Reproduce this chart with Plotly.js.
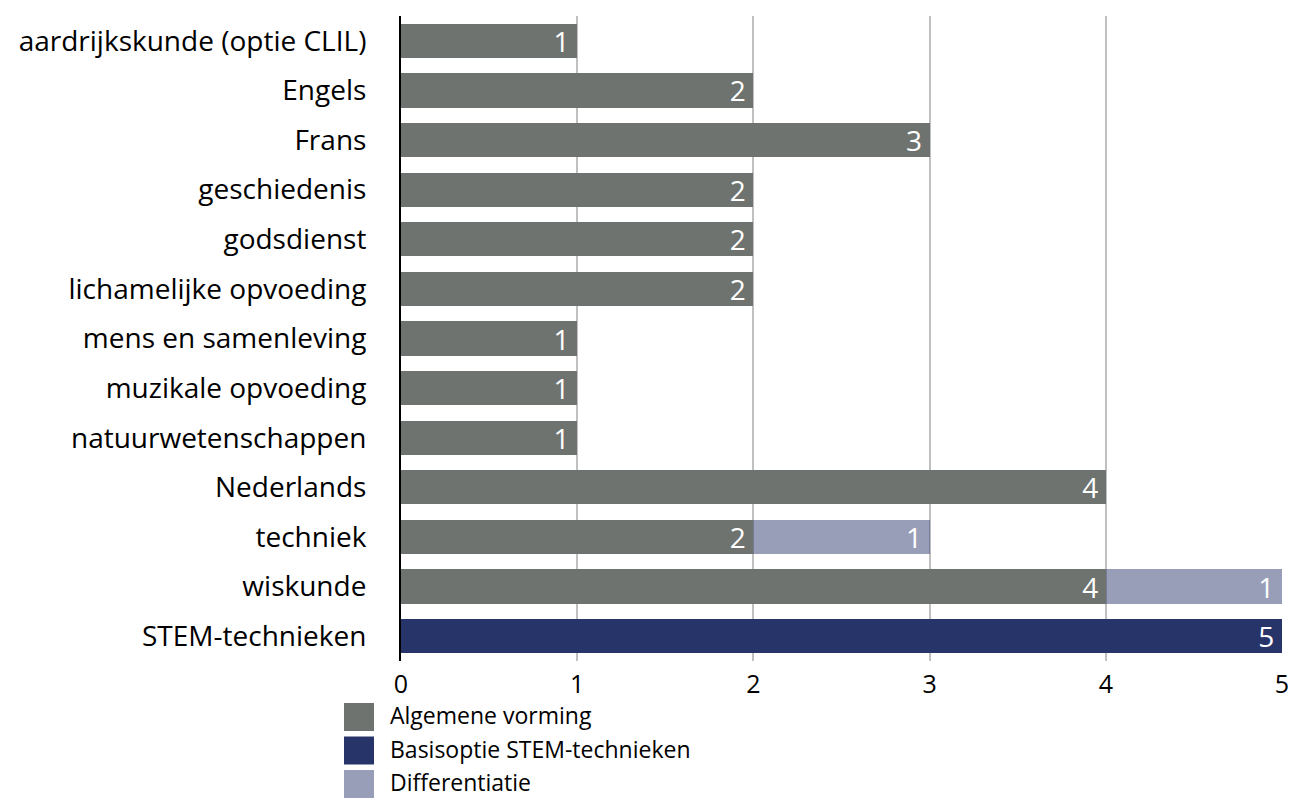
<!DOCTYPE html>
<html>
<head>
<meta charset="utf-8">
<script src="https://cdn.plot.ly/plotly-3.0.1.min.js"></script>
<style>html,body{margin:0;padding:0;background:#fff;}#chart{width:1292px;height:798px;}</style>
</head>
<body>
<div id="chart"></div>
<script>
const categories = ["aardrijkskunde (optie CLIL)","Engels","Frans","geschiedenis","godsdienst","lichamelijke opvoeding","mens en samenleving","muzikale opvoeding","natuurwetenschappen","Nederlands","techniek","wiskunde","STEM-technieken"];
const seriesNames = ["Algemene vorming","Basisoptie STEM-technieken","Differentiatie"];
const algemeneVorming = [1,2,3,2,2,2,1,1,1,4,2,4,null];
const basisoptieSTEM = [null,null,null,null,null,null,null,null,null,null,null,null,5];
const differentiatie = [null,null,null,null,null,null,null,null,null,null,1,1,null];
const xTicks = [0,1,2,3,4,5];
const colors = ['#6e7370','#27346a','rgba(39,52,106,0.48)'];

const FONT = "'Open Sans', Lato, sans-serif";
// plot area in pixels
const PL = 401, PR = 1282, PT = 16, PB = 661, W = 1292, H = 798;
const px2x = p => (p - PL) / (PR - PL);
const px2y = p => (PB - p) / (PB - PT);

function mk(name, vals, color){
  return {
    type:'bar', orientation:'h', name:name, y:categories, x:vals,
    marker:{color:color, line:{width:0}},
    text: vals.map(v => v==null ? '' : String(v) + '\u2009'),
    textposition:'inside', insidetextanchor:'end', constraintext:'none', textangle:0,
    textfont:{color:'#ffffff', size:28, family:FONT},
    hoverinfo:'x+name', showlegend:false
  };
}
const data = [
  mk(seriesNames[0], algemeneVorming, colors[0]),
  mk(seriesNames[1], basisoptieSTEM, colors[1]),
  mk(seriesNames[2], differentiatie, colors[2])
];

// custom legend (large square swatches)
const shapes = [], annotations = [];
seriesNames.forEach((n, i) => {
  const cy = 717 + i * 33.5;
  shapes.push({type:'rect', xref:'paper', yref:'paper', x0:px2x(344), x1:px2x(374), y0:px2y(cy+14), y1:px2y(cy-14), fillcolor:colors[i], line:{width:0}, layer:'above'});
  annotations.push({xref:'paper', yref:'paper', x:px2x(389), y:px2y(cy-2), xanchor:'left', yanchor:'middle', borderpad:0, text:n, showarrow:false, font:{size:23, family:FONT, color:'#000'}});
});

const layout = {
  width:W, height:H,
  margin:{l:PL, r:W-PR, t:PT, b:H-PB, autoexpand:false},
  barmode:'stack', bargap:0.31,
  paper_bgcolor:'#fff', plot_bgcolor:'#fff',
  font:{family:FONT, size:28, color:'#000'},
  xaxis:{range:[0,5], tickvals:xTicks, ticktext:xTicks.map(String), showgrid:true, gridcolor:'#c0c0c0', gridwidth:2, zeroline:false, showline:false, ticks:'', ticklabelstandoff:6, tickfont:{size:25}, fixedrange:true, automargin:false},
  yaxis:{type:'category', categoryorder:'array', categoryarray:categories, autorange:'reversed', showline:true, linecolor:'#000', linewidth:2, ticks:'', ticklabelstandoff:27, showgrid:false, tickfont:{size:28}, automargin:false},
  showlegend:false,
  shapes:shapes, annotations:annotations
};
Plotly.newPlot('chart', data, layout, {displayModeBar:false, staticPlot:true});
</script>
</body>
</html>
